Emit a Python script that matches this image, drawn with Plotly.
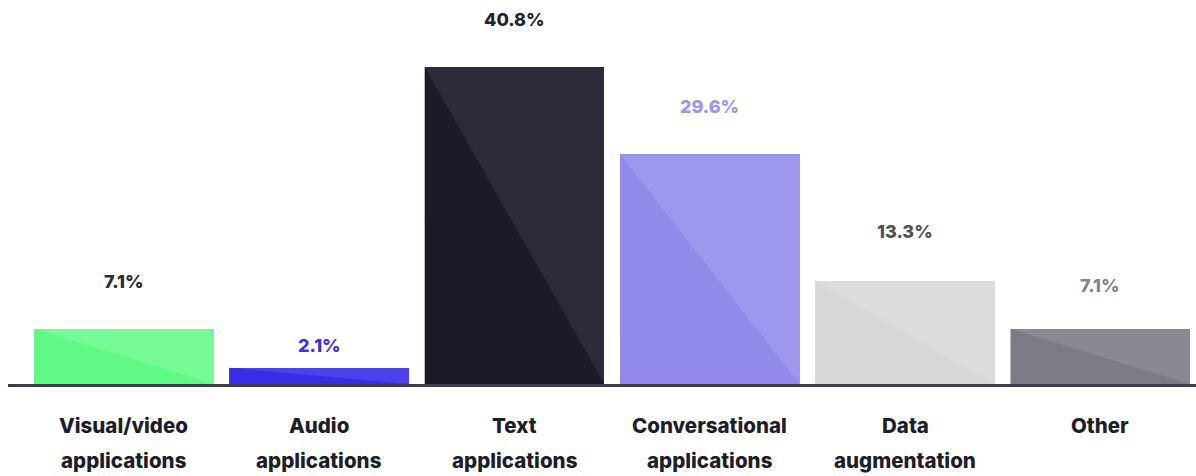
import plotly.graph_objects as go

categories = ["Visual/video applications", "Audio applications", "Text applications",
              "Conversational applications", "Data augmentation", "Other"]
values = [7.1, 2.1, 40.8, 29.6, 13.3, 7.1]
value_labels = ["7.1%", "2.1%", "40.8%", "29.6%", "13.3%", "7.1%"]
category_lines = [["Visual/video", "applications"], ["Audio", "applications"],
                  ["Text", "applications"], ["Conversational", "applications"],
                  ["Data", "augmentation"], ["Other", ""]]

# styles
light_colors = ["#74FB95", "#4B42EE", "#2C2B39", "#9D98EE", "#DCDCDC", "#8A8991"]
dark_colors = ["#5FF986", "#3A2EE4", "#1B1A27", "#928AEA", "#D8D8D8", "#7D7C86"]
label_colors = ["#2b2a36", "#3b30e6", "#23222e", "#9b95ef", "#505059", "#84838b"]
label_shift = [47, 22, 47, 48, 49, 43]
bar_w = 0.92
FONT = "Inter"

xs = list(range(len(categories)))
fig = go.Figure()
fig.add_trace(go.Bar(x=xs, y=values, width=bar_w, marker=dict(color=light_colors, line=dict(width=0)),
                     hoverinfo="skip", showlegend=False))
for i, v in zip(xs, values):
    fig.add_trace(go.Scatter(x=[i - bar_w / 2, i - bar_w / 2, i + bar_w / 2, i - bar_w / 2],
                             y=[0, v, 0, 0], mode="lines", fill="toself",
                             fillcolor=dark_colors[i], line=dict(width=0),
                             hoverinfo="skip", showlegend=False))

ann = []
for i, v in zip(xs, values):
    ann.append(dict(x=i, y=v, xref="x", yref="y", text=value_labels[i], showarrow=False,
                    yshift=label_shift[i], yanchor="middle",
                    font=dict(family=FONT, size=18, color=label_colors[i], weight=800)))
    for k, line in enumerate(category_lines[i]):
        if not line:
            continue
        ann.append(dict(x=i, y=[-0.1068, -0.2005][k], xref="x", yref="paper", text=line,
                        showarrow=False, yanchor="middle",
                        font=dict(family=FONT, size=20.5, color="#1e1d2a", weight=800)))

fig.update_layout(
    width=1196, height=476,
    margin=dict(l=8, r=0, t=0, b=92),
    plot_bgcolor="white", paper_bgcolor="white",
    xaxis=dict(range=[-0.594, 5.49], showgrid=False, zeroline=False, showticklabels=False,
               showline=True, linecolor="#3d3c48", linewidth=2.5, ticks=""),
    yaxis=dict(range=[0, 49.42], showgrid=False, zeroline=False, showticklabels=False,
               showline=False),
    annotations=ann,
    bargap=0,
)
fig.write_html("out.html")
